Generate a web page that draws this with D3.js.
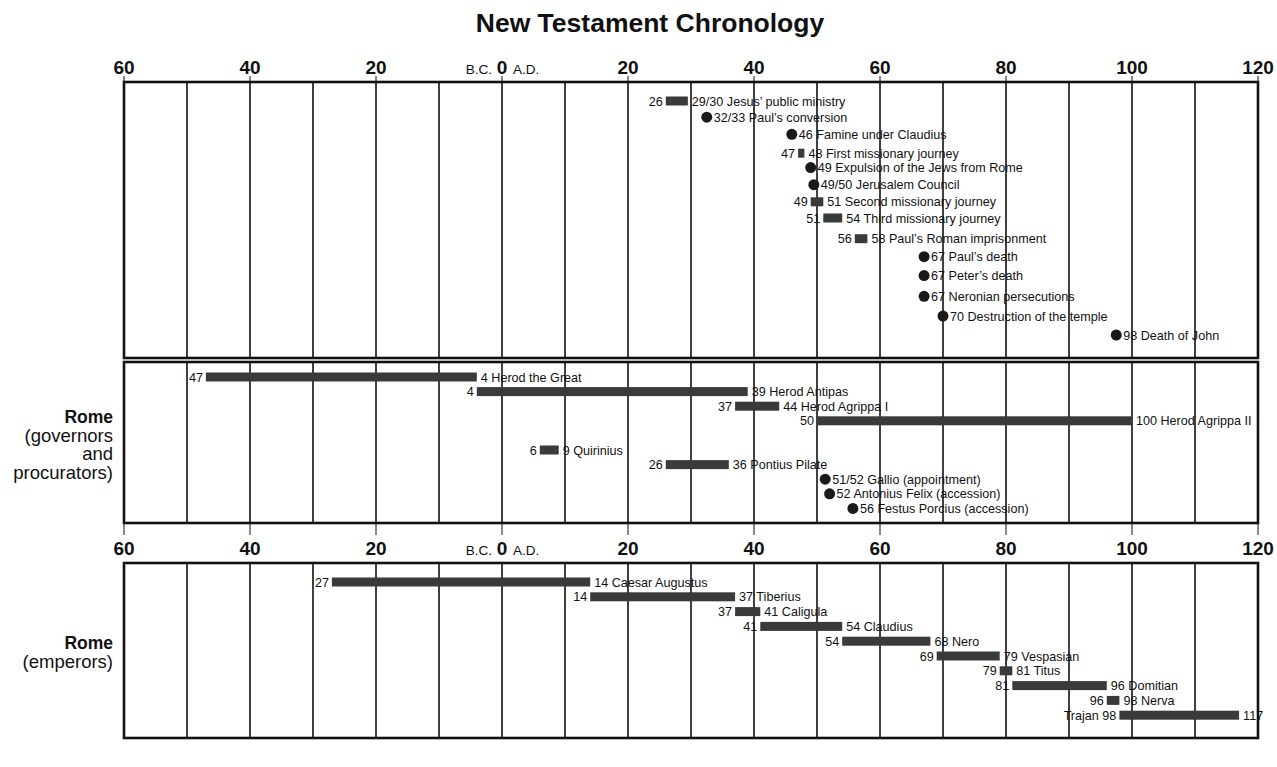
<!DOCTYPE html>
<html><head><meta charset="utf-8">
<script src="https://cdn.jsdelivr.net/npm/d3@7"></script>
<style>body{margin:0;background:#fff}svg{display:block}text{font-family:"Liberation Sans",Arial,Helvetica,sans-serif;fill:#111}</style>
</head><body>
<svg id="c" width="1277" height="767"></svg>
<script>
// ---- data ----
const title = "New Testament Chronology";
const axisTicks = [-60,-40,-20,0,20,40,60,80,100,120];
const axisTickLabels = ["60","40","20","0","20","40","60","80","100","120"];
const gridYears = d3.range(-50, 120, 10);

// [start, end (null = single date), start label, end/date label + name]
const ntEvents = [
  [26, 29.5, "26", "29/30 Jesus\u2019 public ministry"],
  [32.5, null, "", "32/33 Paul\u2019s conversion"],
  [46, null, "", "46 Famine under Claudius"],
  [47, 48, "47", "48 First missionary journey"],
  [49, null, "", "49 Expulsion of the Jews from Rome"],
  [49.5, null, "", "49/50 Jerusalem Council"],
  [49, 51, "49", "51 Second missionary journey"],
  [51, 54, "51", "54 Third missionary journey"],
  [56, 58, "56", "58 Paul\u2019s Roman imprisonment"],
  [67, null, "", "67 Paul\u2019s death"],
  [67, null, "", "67 Peter\u2019s death"],
  [67, null, "", "67 Neronian persecutions"],
  [70, null, "", "70 Destruction of the temple"],
  [97.5, null, "", "98 Death of John"]
];
const ntLanes = [0, 0.9, 1.85, 2.9, 3.7, 4.65, 5.6, 6.5, 7.65, 8.65, 9.7, 10.85, 11.95, 13];

const governors = [
  [-47, -4, "47", "4 Herod the Great"],
  [-4, 39, "4", "39 Herod Antipas"],
  [37, 44, "37", "44 Herod Agrippa I"],
  [50, 100, "50", "100 Herod Agrippa II"],
  [6, 9, "6", "9 Quirinius"],
  [26, 36, "26", "36 Pontius Pilate"],
  [51.3, null, "", "51/52 Gallio (appointment)"],
  [52, null, "", "52 Antonius Felix (accession)"],
  [55.7, null, "", "56 Festus Porcius (accession)"]
];
const governorLanes = [0,1,2,3,5,6,7,8,9];

const emperors = [
  [-27, 14, "27", "14 Caesar Augustus"],
  [14, 37, "14", "37 Tiberius"],
  [37, 41, "37", "41 Caligula"],
  [41, 54, "41", "54 Claudius"],
  [54, 68, "54", "68 Nero"],
  [69, 79, "69", "79 Vespasian"],
  [79, 81, "79", "81 Titus"],
  [81, 96, "81", "96 Domitian"],
  [96, 98, "96", "98 Nerva"],
  [98, 117, "Trajan 98", "117"]
];
const emperorLanes = d3.range(emperors.length);

const sideLabels2 = ["Rome", "(governors", "and", "procurators)"];
const sideLabels3 = ["Rome", "(emperors)"];

// ---- layout ----
const svg = d3.select("#c");
const x = d3.scaleLinear().domain([-60, 120]).range([124, 1258]);
const panels = [
  {top: 82, bottom: 358, y0: 101, step: 18, data: ntEvents, lanes: ntLanes},
  {top: 362, bottom: 523, y0: 377, step: 14.6, data: governors, lanes: governorLanes},
  {top: 563, bottom: 738, y0: 582, step: 14.8, data: emperors, lanes: emperorLanes}
];

svg.append("text").attr("x", 650).attr("y", 32).attr("text-anchor", "middle")
  .style("font-size", "26.5px").style("font-weight", "bold").text(title);

function drawAxis(baseline, tickY1, tickY2) {
  const g = svg.append("g");
  axisTicks.forEach((t, i) => {
    g.append("text").attr("x", x(t)).attr("y", baseline).attr("text-anchor", "middle")
      .style("font-size", "19px").style("font-weight", "bold").text(axisTickLabels[i]);
    g.append("line").attr("x1", x(t)).attr("x2", x(t)).attr("y1", tickY1).attr("y2", tickY2)
      .attr("stroke", "#111").attr("stroke-width", 1);
  });
  g.append("text").attr("x", x(0) - 10).attr("y", baseline).attr("text-anchor", "end")
    .style("font-size", "13.5px").text("B.C.");
  g.append("text").attr("x", x(0) + 11).attr("y", baseline).attr("text-anchor", "start")
    .style("font-size", "13.5px").text("A.D.");
}
drawAxis(74, 76, 82);
drawAxis(555, 523, 535);

const barH = 9;
const fs = "12.6px";
panels.forEach(p => {
  const g = svg.append("g");
  const y = d3.scaleLinear().domain([0, 1]).range([p.y0, p.y0 + p.step]);
  g.selectAll("line.grid").data(gridYears).join("line")
    .attr("x1", d => x(d)).attr("x2", d => x(d)).attr("y1", p.top).attr("y2", p.bottom)
    .attr("stroke", "#111").attr("stroke-width", 1.6);
  g.append("rect").attr("x", x(-60)).attr("y", p.top).attr("width", x(120) - x(-60))
    .attr("height", p.bottom - p.top).attr("fill", "none").attr("stroke", "#111").attr("stroke-width", 2.6);

  p.data.forEach((d, i) => {
    const cy = y(p.lanes[i]);
    const [s, e, sl, el] = d;
    if (e === null) {
      g.append("circle").attr("cx", x(s)).attr("cy", cy).attr("r", 5.5).attr("fill", "#1a1a1a");
      g.append("text").attr("x", x(s) + 7).attr("y", cy + 4.5).style("font-size", fs).text(el);
    } else {
      g.append("rect").attr("x", x(s)).attr("y", cy - barH / 2).attr("width", x(e) - x(s))
        .attr("height", barH).attr("fill", "#3a3a3a");
      if (sl) g.append("text").attr("x", x(s) - 3).attr("y", cy + 4.5).attr("text-anchor", "end")
        .style("font-size", fs).text(sl);
      g.append("text").attr("x", x(e) + 4).attr("y", cy + 4.5).style("font-size", fs).text(el);
    }
  });
});

function side(lines, yStart) {
  lines.forEach((t, i) => {
    svg.append("text").attr("x", 113).attr("y", yStart + i * 18.5).attr("text-anchor", "end")
      .style("font-size", i === 0 ? "17.5px" : "18.5px").style("font-weight", i === 0 ? "bold" : "normal").text(t);
  });
}
side(sideLabels2, 423);
side(sideLabels3, 649);
</script>
</body></html>
